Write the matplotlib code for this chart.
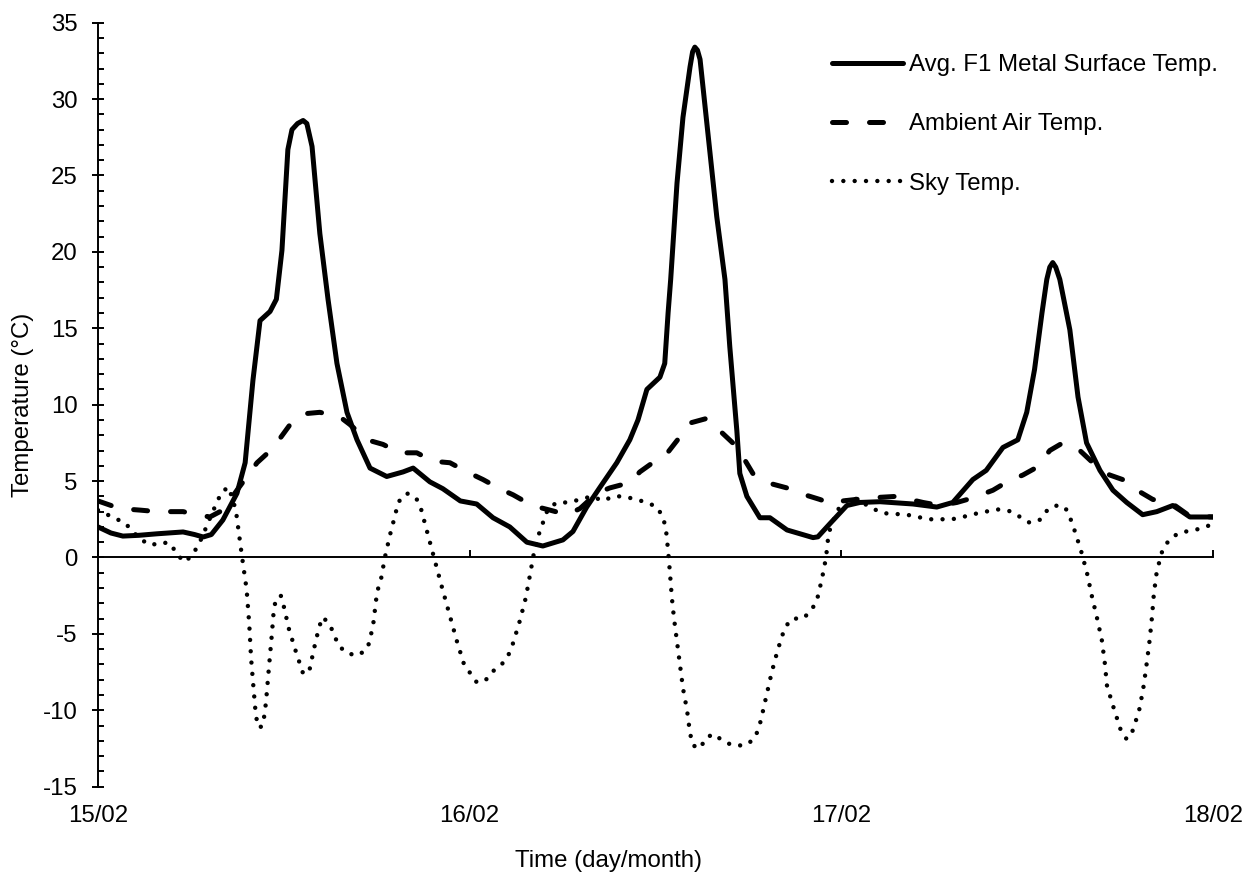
#!/usr/bin/env python3
"""Surface, ambient air and sky temperature over three days (15/02 - 18/02)."""

import matplotlib
matplotlib.use("Agg")
import matplotlib.pyplot as plt
import matplotlib.ticker as mticker

plt.rcParams["font.family"] = ["Liberation Sans", "DejaVu Sans"]
plt.rcParams["axes.unicode_minus"] = False

# ---------------------------------------------------------------------------
# Data (time in days from 15/02 00:00, temperature in degC)
# ---------------------------------------------------------------------------

metal_t = [0.0, 0.035, 0.067, 0.11, 0.159, 0.229, 0.26, 0.283, 0.305, 0.336,
           0.374, 0.396, 0.417, 0.436, 0.463, 0.48, 0.495, 0.511, 0.522, 0.537,
           0.552, 0.562, 0.576, 0.597, 0.619, 0.643, 0.670, 0.697, 0.732, 0.777,
           0.821, 0.848, 0.893, 0.928, 0.975, 1.019, 1.063, 1.108, 1.154, 1.197,
           1.251, 1.278, 1.315, 1.351, 1.396, 1.431, 1.453, 1.477, 1.512, 1.525,
           1.534, 1.541, 1.558, 1.574, 1.593, 1.600, 1.606, 1.613, 1.620, 1.641,
           1.665, 1.687, 1.700, 1.719, 1.727, 1.746, 1.781, 1.808, 1.854, 1.924,
           1.937, 1.969, 2.015, 2.05, 2.104, 2.193, 2.257, 2.30, 2.354, 2.39,
           2.435, 2.475, 2.499, 2.52, 2.54, 2.553, 2.561, 2.569, 2.577, 2.588,
           2.615, 2.637, 2.66, 2.696, 2.731, 2.768, 2.811, 2.849, 2.892, 2.911,
           2.938, 3.0]
metal_temp = [2.0, 1.6, 1.4, 1.45, 1.55, 1.67, 1.5, 1.34, 1.5, 2.45,
              4.2, 6.2, 11.6, 15.5, 16.1, 16.9, 20.1, 26.7, 28.0, 28.4,
              28.6, 28.4, 26.9, 21.2, 16.9, 12.7, 9.5, 7.7, 5.85, 5.3,
              5.6, 5.85, 4.95, 4.5, 3.7, 3.5, 2.6, 2.0, 1.0, 0.75,
              1.15, 1.7, 3.3, 4.6, 6.2, 7.7, 9.0, 11.0, 11.8, 12.7,
              16.0, 18.2, 24.5, 28.8, 32.1, 33.1, 33.4, 33.2, 32.6, 27.8,
              22.3, 18.2, 13.8, 8.3, 5.5, 4.0, 2.6, 2.6, 1.8, 1.3,
              1.35, 2.2, 3.4, 3.6, 3.65, 3.5, 3.3, 3.6, 5.1, 5.7,
              7.2, 7.7, 9.5, 12.3, 16.0, 18.2, 19.0, 19.3, 19.0, 18.2,
              14.9, 10.5, 7.5, 5.7, 4.4, 3.6, 2.8, 3.0, 3.4, 3.1,
              2.65, 2.65]

air_t = [0.0, 0.059, 0.113, 0.159, 0.229, 0.248, 0.301, 0.336, 0.374, 0.428,
         0.455, 0.49, 0.517, 0.552, 0.597, 0.651, 0.678, 0.724, 0.767, 0.812,
         0.858, 0.901, 0.947, 0.993, 1.036, 1.081, 1.117, 1.168, 1.216, 1.262,
         1.297, 1.342, 1.377, 1.431, 1.458, 1.504, 1.534, 1.566, 1.593, 1.638,
         1.673, 1.708, 1.735, 1.762, 1.800, 1.854, 1.889, 1.942, 1.977, 2.004,
         2.077, 2.149, 2.22, 2.265, 2.311, 2.354, 2.408, 2.446, 2.489, 2.526,
         2.561, 2.596, 2.642, 2.677, 2.722, 2.757, 2.803, 2.838, 2.892, 2.938,
         3.0]
air_temp = [3.7, 3.2, 3.1, 3.0, 3.0, 2.9, 2.65, 3.1, 4.4, 6.2,
            6.8, 7.8, 8.7, 9.4, 9.5, 9.2, 8.7, 7.7, 7.4, 6.85,
            6.85, 6.3, 6.2, 5.6, 5.1, 4.5, 4.1, 3.4, 3.1, 2.8,
            3.2, 4.2, 4.55, 4.9, 5.6, 6.4, 6.9, 7.9, 8.8, 9.1,
            8.3, 7.5, 6.6, 5.5, 4.9, 4.55, 4.2, 3.8, 3.5, 3.7,
            3.9, 4.0, 3.6, 3.4, 3.6, 3.9, 4.4, 4.95, 5.4, 5.9,
            7.0, 7.5, 7.0, 6.2, 5.4, 5.1, 4.3, 3.8, 3.5, 2.7,
            2.65]

sky_t = [0.0, 0.073, 0.113, 0.143, 0.170, 0.196, 0.212, 0.234, 0.255, 0.272,
         0.283, 0.296, 0.307, 0.32, 0.333, 0.352, 0.371, 0.379, 0.387, 0.40,
         0.407, 0.412, 0.417, 0.425, 0.433, 0.444, 0.452, 0.46, 0.468, 0.473,
         0.479, 0.492, 0.5, 0.514, 0.533, 0.552, 0.568, 0.581, 0.595, 0.605,
         0.624, 0.648, 0.673, 0.702, 0.726, 0.74, 0.751, 0.761, 0.772, 0.786,
         0.801, 0.807, 0.831, 0.856, 0.869, 0.885, 0.901, 0.925, 0.95, 0.966,
         0.985, 1.02, 1.047, 1.065, 1.09, 1.106, 1.117, 1.135, 1.151, 1.162,
         1.173, 1.189, 1.2, 1.211, 1.235, 1.267, 1.297, 1.329, 1.359, 1.386,
         1.415, 1.447, 1.477, 1.504, 1.520, 1.528, 1.534, 1.539, 1.544, 1.550,
         1.558, 1.566, 1.574, 1.585, 1.593, 1.601, 1.620, 1.636, 1.657, 1.681,
         1.708, 1.741, 1.765, 1.778, 1.786, 1.8, 1.813, 1.829, 1.848, 1.867,
         1.897, 1.918, 1.934, 1.948, 1.959, 1.966, 1.988, 2.004, 2.031, 2.085,
         2.112, 2.144, 2.176, 2.206, 2.236, 2.268, 2.298, 2.327, 2.359, 2.389,
         2.419, 2.451, 2.478, 2.505, 2.532, 2.55, 2.575, 2.602, 2.615, 2.626,
         2.645, 2.661, 2.674, 2.688, 2.701, 2.709, 2.715, 2.733, 2.752, 2.768,
         2.785, 2.803, 2.814, 2.822, 2.830, 2.836, 2.841, 2.849, 2.865, 2.884,
         2.908, 2.938, 2.970, 3.0]
sky_temp = [3.1, 2.25, 1.2, 0.8, 1.0, 0.9, 0.2, -0.3, 0.2, 0.9,
            1.5, 2.25, 2.9, 3.6, 4.3, 4.6, 3.1, 1.6, 0.15, -2.1,
            -4.35, -6.6, -8.1, -10.4, -11.15, -11.0, -9.5, -7.2, -5.0, -3.45,
            -2.7, -2.5, -3.2, -4.7, -6.2, -7.6, -7.5, -6.0, -4.55, -3.9,
            -4.4, -5.8, -6.3, -6.4, -5.9, -4.5, -2.25, -1.5, 0.0, 1.5,
            2.9, 3.6, 4.2, 3.9, 3.2, 1.75, 0.3, -1.9, -4.1, -5.5,
            -7.0, -8.2, -7.95, -7.4, -6.9, -6.3, -5.6, -4.15, -2.65, -1.2,
            0.3, 1.75, 2.45, 3.2, 3.6, 3.6, 3.8, 4.0, 3.7, 4.0,
            4.0, 3.8, 3.6, 3.3, 2.65, 1.9, 0.45, -1.0, -2.6, -4.0,
            -5.5, -7.05, -8.55, -10.0, -11.5, -12.3, -12.5, -11.8, -11.55, -12.0,
            -12.3, -12.3, -11.9, -11.2, -10.4, -8.9, -7.5, -6.05, -4.6, -4.0,
            -4.0, -3.5, -2.85, -1.4, 0.0, 1.6, 3.0, 3.6, 3.95, 3.2,
            2.9, 2.85, 2.8, 2.65, 2.5, 2.5, 2.5, 2.65, 2.85, 3.0,
            3.15, 3.05, 2.7, 2.3, 2.4, 3.0, 3.4, 3.3, 2.65, 1.9,
            0.45, -1.0, -2.5, -3.95, -5.4, -6.9, -8.4, -9.85, -11.3, -11.9,
            -11.3, -9.85, -8.35, -6.9, -5.35, -3.9, -2.4, -0.9, 0.55, 1.2,
            1.6, 1.75, 1.9, 2.2]

day_ticks  = [0, 1, 2, 3]
day_labels = ["15/02", "16/02", "17/02", "18/02"]

FS = 17.3


def main() -> None:
    fig = plt.figure(figsize=(12.48, 8.73), dpi=100)
    ax = fig.add_axes([0.0785, 0.0989, 0.8934, 0.8751])

    ax.plot(metal_t, metal_temp, color="black", lw=3.6,
            solid_capstyle="round", solid_joinstyle="round",
            label="Avg. F1 Metal Surface Temp.")
    ax.plot(air_t, air_temp, color="black", lw=3.6,
            linestyle=(0, (2.8, 4.6)), dash_capstyle="round",
            label="Ambient Air Temp.")
    ax.plot(sky_t, sky_temp, color="black", lw=3.2,
            linestyle=(0, (0.001, 2.55)), dash_capstyle="round",
            label="Sky Temp.")

    ax.set_xlim(0, 3)
    ax.set_ylim(-15, 35)

    # ---- spines: y axis at left, x axis crossing at zero ----
    for s in ("top", "right"):
        ax.spines[s].set_visible(False)
    ax.spines["bottom"].set_position(("data", 0))
    ax.spines["left"].set_linewidth(1.4)
    ax.spines["bottom"].set_linewidth(1.4)

    ax.yaxis.set_major_locator(mticker.MultipleLocator(5))
    ax.yaxis.set_minor_locator(mticker.MultipleLocator(1))
    ax.tick_params(axis="y", which="major", direction="inout", length=8.6,
                   width=1.4, pad=10.5, labelsize=FS)
    ax.tick_params(axis="y", which="minor", direction="in", length=4.3,
                   width=1.4)

    ax.set_xticks(day_ticks)
    ax.tick_params(axis="x", which="major", direction="in", length=5,
                   width=1.4, labelbottom=False)

    # date labels sit at the bottom of the plot, not on the zero line
    sec = ax.secondary_xaxis("bottom")
    sec.set_xticks(day_ticks, labels=day_labels)
    sec.spines["bottom"].set_visible(False)
    sec.tick_params(length=0, pad=13, labelsize=FS)

    ax.set_ylabel("Temperature (\u00b0C)", fontsize=FS)
    ax.yaxis.set_label_coords(-0.057, 0.5)
    ax.set_xlabel("Time (day/month)", fontsize=FS)
    ax.xaxis.set_label_coords(0.458, -0.083)

    ax.legend(loc="upper left", bbox_to_anchor=(0.6667, 0.938),
              bbox_transform=fig.transFigure, frameon=False, fontsize=FS,
              handlelength=2.95, handletextpad=0.25, labelspacing=1.55,
              borderpad=0, borderaxespad=0)

    fig.savefig("out.png", dpi=100, facecolor="white")
    plt.close(fig)


if __name__ == "__main__":
    main()
